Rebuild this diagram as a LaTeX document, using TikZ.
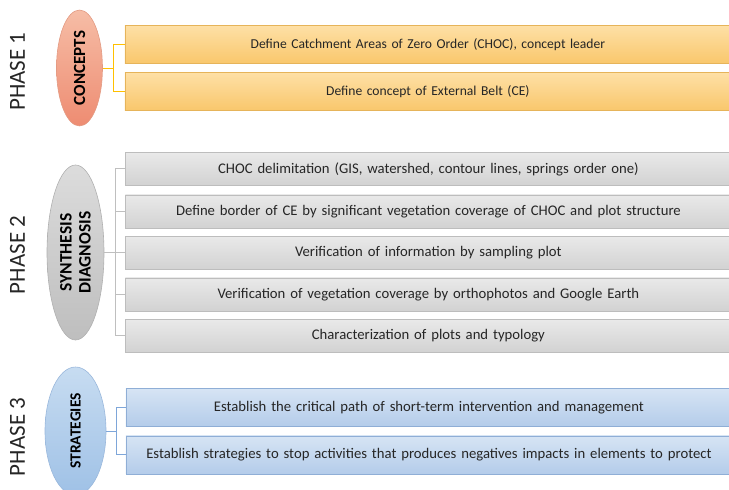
\documentclass[tikz,border=0pt]{standalone}
\usepackage{fontspec}
\setmainfont{Carlito}
\usetikzlibrary{shapes.geometric}
\definecolor{txt}{HTML}{262626}
\definecolor{orTop}{HTML}{FEE0A6}
\definecolor{orBot}{HTML}{F9C76C}
\definecolor{orLine}{HTML}{E6B45A}
\definecolor{orConn}{HTML}{FFC000}
\definecolor{grTop}{HTML}{E9E9E9}
\definecolor{grBot}{HTML}{D2D2D2}
\definecolor{grLine}{HTML}{BDBDBD}
\definecolor{grConn}{HTML}{BFBFBF}
\definecolor{blTop}{HTML}{D6E4F4}
\definecolor{blBot}{HTML}{B4CCEA}
\definecolor{blLine}{HTML}{8FAED6}
\definecolor{blConn}{HTML}{7EA6D9}
\definecolor{saTop}{HTML}{F6BDA6}
\definecolor{saBot}{HTML}{EE8C72}
\definecolor{saLine}{HTML}{E39A82}
\definecolor{geTop}{HTML}{DCDCDC}
\definecolor{geBot}{HTML}{BEBEBE}
\definecolor{geLine}{HTML}{B0B0B0}
\definecolor{beTop}{HTML}{C7DCF1}
\definecolor{beBot}{HTML}{9FC1E6}
\definecolor{beLine}{HTML}{9AB8DC}
\tikzset{
  taskbox/.style={rectangle, anchor=north west, minimum width=606pt, inner sep=0pt,
    text=txt, font=\fontsize{14.7}{17}\selectfont, line width=0.8pt, text width=604pt, align=center},
  obox/.style={taskbox, minimum height=38pt, top color=orTop, bottom color=orBot, draw=orLine, font=\fontsize{13.6}{16}\selectfont},
  gbox/.style={taskbox, minimum height=33pt, top color=grTop, bottom color=grBot, draw=grLine},
  bbox/.style={taskbox, minimum height=38pt, top color=blTop, bottom color=blBot, draw=blLine},
  phase/.style={ellipse, inner sep=0pt, line width=0.6pt, text=black},
  phaselabel/.style={rotate=90, text=txt, font=\fontsize{23}{26}\selectfont},
  oconn/.style={draw=orConn, line width=1pt},
  gconn/.style={draw=grConn, line width=1pt},
  bconn/.style={draw=blConn, line width=1pt}
}
\begin{document}
\begin{tikzpicture}[x=1pt, y=-1pt]
\useasboundingbox (0,0) rectangle (729,490);
% Phase labels
\node[phaselabel] (p1) at (17.5,71.5) {PHASE 1};
\node[phaselabel] (p2) at (17.5,255) {PHASE 2};
\node[phaselabel] (p3) at (17.5,437) {PHASE 3};
% ellipses
\node[phase, minimum width=46pt, minimum height=116pt, top color=saTop, bottom color=saBot, draw=saLine] (e1) at (79.5,68) {};
\node[rotate=90, font=\bfseries\fontsize{17}{19}\selectfont] (t1) at (e1.center) {CONCEPTS};
\node[phase, minimum width=57pt, minimum height=175pt, top color=geTop, bottom color=geBot, draw=geLine] (e2) at (75.5,252.5) {};
\node[rotate=90, align=center, font=\bfseries\fontsize{17.5}{19}\selectfont] (t2) at (e2.center) {SYNTHESIS\\DIAGNOSIS};
\node[phase, minimum width=61pt, minimum height=128pt, top color=beTop, bottom color=beBot, draw=beLine] (e3) at (75.5,431) {};
\node[rotate=90, font=\bfseries\fontsize{15.5}{18}\selectfont] (t3) at (e3.center) {STRATEGIES};
% Phase 1 boxes
\node[obox] (a1) at (124.5,25) {Define Catchment Areas of Zero Order (CHOC), concept leader};
\node[obox] (a2) at (124.5,72) {Define concept of External Belt (CE)};
% Phase 2 boxes
\node[gbox] (b1) at (125,152) {CHOC delimitation (GIS, watershed, contour lines, springs order one)};
\node[gbox] (b2) at (125,194.5) {Define border of CE by significant vegetation coverage of CHOC and plot structure};
\node[gbox] (b3) at (125,236) {Verification of information by sampling plot};
\node[gbox] (b4) at (125,277.5) {Verification of vegetation coverage by orthophotos and Google Earth};
\node[gbox] (b5) at (125,319) {Characterization of plots and typology};
% Phase 3 boxes
\node[bbox] (c1) at (125.5,388) {Establish the critical path of short-term intervention and management};
\node[bbox] (c2) at (125.5,435.5) {Establish strategies to stop activities that produces negatives impacts in elements to protect};
% connectors
\coordinate (j1) at (113,0);
\coordinate (j2) at (115,0);
\coordinate (j3) at (116,0);
\path[oconn] (e1.east) -- (e1.east -| j1);
\path[oconn] (a1.west) -| (j1 |- a2.west) -- (a2.west);
\path[gconn] (e2.east) -- (e2.east -| j2);
\path[gconn] (b1.west) -| (j2 |- b5.west) -- (b5.west);
\path[gconn] (b2.west) -- (b2.west -| j2);
\path[gconn] (b3.west) -- (b3.west -| j2);
\path[gconn] (b4.west) -- (b4.west -| j2);
\path[bconn] (e3.east) -- (e3.east -| j3);
\path[bconn] (c1.west) -| (j3 |- c2.west) -- (c2.west);
\end{tikzpicture}
\end{document}
